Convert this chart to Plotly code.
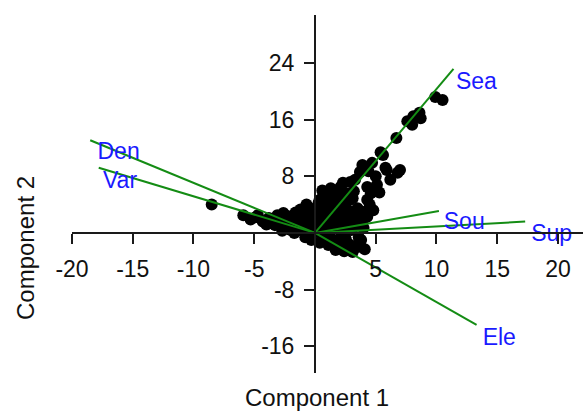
import plotly.graph_objects as go

# ---- data ----
score_x = [10.5, 9.9, 8.6, 8.7, 8.1, 7.6, 8.0, 6.7, 5.4, 5.6, 5.9, 6.8, 7.0, 3.9, 3.7, 4.7, 4.4, 5.8,
           6.2, 2.3, 2.9, 5.1, 5.3, 4.3, 3.3, 2.1, 1.5, 0.7, 0.4, 3.1, 4.3, 4.5, 3.7, 4.3, -0.7, -1.2,
           -0.2, 4.0, 3.7, 2.9, 1.6, 2.5, 3.3, 3.0, -2.6, -2.1, -1.2, -0.7, -4.3, -4.7, -5.9, -8.5,
           -3.3, -2.5, -1.7, -0.8, -0.3, 0.4, 1.1, -1.8, -1.0, -0.5, 0.2, 0.8, 1.4, 2.0, 2.6, 1.8,
           1.0, 0.3, -0.4, -1.4, 0.6, 1.6, 2.4, 2.8, 2.2, 1.2, 0.5, -0.2, -1.2, -2.2, -2.8, -3.5,
           -3.0, 1.9, 2.6, 0.9, -0.1, 3.5, 3.9, 2.7, 3.4, 3.6, 2.6, 1.8, 0.9, -0.6, -1.8, -2.6,
           -3.8, -0.9, 1.5, 0.0, 2.1, 3.0, 1.2, 0.4, 3.5, 3.8, 2.0, -1.5, -2.0, 0.6, 1.3, 2.3,
           3.2, -3.9, -4.9, -5.3, 1.7, 2.4, 0.2, -0.6, 4.1, 3.1, 2.2,
           -2.3, -1.6, -0.9, -3.1, -2.0, -1.3, -0.4, 0.1, 0.9, 1.7, 2.5, 3.3, 0.3, 1.1, 1.9,
           -0.2, 0.6, 1.4, 2.8, 3.9, 4.6, 5.0, 2.4, 1.0, -1.1, -2.7, -4.0, 0.8, 1.6, 4.8]
score_y = [18.8, 19.2, 17.0, 16.2, 16.5, 15.8, 15.3, 13.4, 11.4, 11.0, 8.9, 8.5, 8.9, 9.6, 8.6, 9.9, 8.7, 9.2,
           7.5, 7.1, 7.2, 6.8, 5.7, 6.5, 7.5, 6.5, 5.7, 5.4, 4.7, 4.9, 4.7, 4.0, 2.8, 2.3, 4.0, 3.0,
           2.8, 0.7, -1.4, -1.7, -1.4, -0.7, 1.6, 0.4, 2.8, 2.3, 3.3, 3.5, 1.6, 2.5, 2.5, 4.0,
           1.1, 0.7, 0.0, -0.6, -1.0, -1.4, -1.7, 1.5, 1.2, 0.5, 0.8, 1.5, 0.6, 1.2, 2.0, 2.8,
           3.0, 2.2, 2.6, 2.2, 3.8, 3.9, 3.4, 1.0, -0.2, -0.5, -0.2, 0.2, 0.6, 1.6, 2.0, 1.8,
           1.4, 5.2, 5.6, 4.4, 3.4, 3.5, 3.0, 2.7, 1.0, -0.6, -1.2, -1.0, -1.1, -0.3, 0.8, 1.3,
           2.1, 1.9, 1.8, 1.4, 2.2, 3.0, 2.2, 1.2, -2.0, -1.0, -2.1, 0.3, 1.0, 6.0, 6.3, 5.8,
           5.9, 1.3, 2.2, 1.9, -2.4, -2.6, 3.2, 0.9, -2.3, -2.7, 4.2,
           2.4, 2.9, 2.3, 2.5, 0.4, 1.6, 1.0, 3.0, 2.5, 3.2, 4.2, 2.2, 4.3, 5.0, 4.5,
           1.9, 0.1, 1.2, 4.6, 1.5, 5.6, 8.0, 0.5, 0.2, 1.7, 0.3, 1.2, -0.8, -1.9, 3.2]

load_names = ["Sea", "Den", "Var", "Sou", "Sup", "Ele"]
load_x = [11.4, -18.5, -17.8, 10.2, 17.3, 13.3]
load_y = [23.2, 13.1, 9.2, 3.1, 1.6, -13.0]
label_x = [11.6, -17.9, -17.45, 10.6, 17.8, 13.8]
label_y = [21.1, 11.3, 7.1, 1.3, -0.4, -15.05]

x_ticks = [-20, -15, -10, -5, 5, 10, 15, 20]
y_ticks = [-16, -8, 8, 16, 24]

X_RANGE = [-20, 22.06]
Y_RANGE = [-19.8, 30.8]

FONT = "Liberation Sans, Arial, sans-serif"
GREEN = "#148c14"
BLUE = "#1a1aff"
AX = "#1a1a1a"

fig = go.Figure()

fig.add_trace(go.Scatter(
    x=score_x, y=score_y, mode="markers",
    marker=dict(size=12, color="black", line=dict(width=0)),
    hoverinfo="skip", showlegend=False))

for name, lx, ly in zip(load_names, load_x, load_y):
    fig.add_trace(go.Scatter(
        x=[0, lx], y=[0, ly], mode="lines",
        line=dict(color=GREEN, width=2), name=name, showlegend=False))

fig.add_trace(go.Scatter(
    x=label_x, y=label_y, mode="text", text=load_names,
    textposition="middle right",
    textfont=dict(family=FONT, size=23, color=BLUE),
    showlegend=False, hoverinfo="skip"))

x0_frac = (0 - Y_RANGE[0]) / (Y_RANGE[1] - Y_RANGE[0])
y0_frac = (0 - X_RANGE[0]) / (X_RANGE[1] - X_RANGE[0])

fig.update_layout(
    width=586, height=411,
    margin=dict(l=72, r=3, t=15, b=38),
    paper_bgcolor="white", plot_bgcolor="white",
    font=dict(family=FONT, size=23, color="#111"),
    xaxis=dict(range=X_RANGE, anchor="free", position=x0_frac,
               showgrid=False, zeroline=False, showline=True,
               linecolor=AX, linewidth=2, ticks="outside", ticklen=10,
               tickwidth=2, tickcolor=AX, tickvals=x_ticks,
               ticktext=[str(v) for v in x_ticks], ticklabelstandoff=5,
               tickfont=dict(family=FONT, size=23, color="#111")),
    yaxis=dict(range=Y_RANGE, anchor="free", position=y0_frac,
               showgrid=False, zeroline=False, showline=True,
               linecolor=AX, linewidth=2, ticks="outside", ticklen=10,
               tickwidth=2, tickcolor=AX, tickvals=y_ticks,
               ticktext=[str(v) for v in y_ticks], ticklabelstandoff=5,
               tickfont=dict(family=FONT, size=23, color="#111")),
    annotations=[
        dict(text="Component 1", xref="paper", yref="paper",
             x=(317 - 72) / 511, y=-(397 - 373) / 358,
             showarrow=False, xanchor="center", yanchor="middle",
             font=dict(family=FONT, size=24, color="#111")),
        dict(text="Component 2", xref="paper", yref="paper",
             x=(25 - 72) / 511, y=(373 - 248) / 358, textangle=-90,
             showarrow=False, xanchor="center", yanchor="middle",
             font=dict(family=FONT, size=24, color="#111")),
    ],
)

fig.write_html("out.html", config={"displayModeBar": False},
               post_script="document.body.style.margin='0';")
